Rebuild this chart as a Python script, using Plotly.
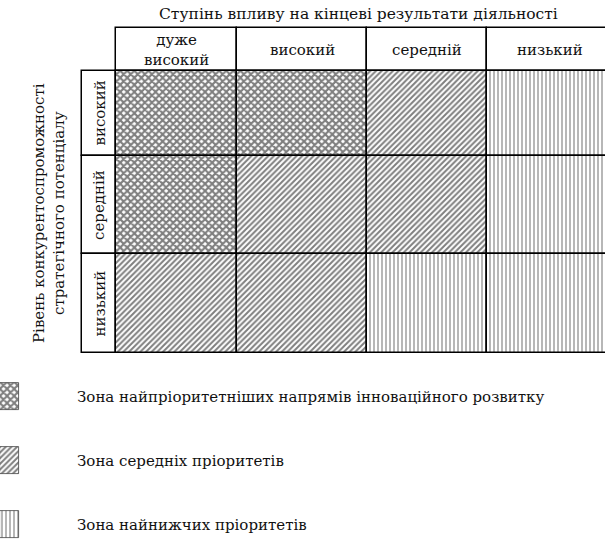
import plotly.graph_objects as go

# ---------------- data ----------------
title_text = "Ступінь впливу на кінцеві результати діяльності"
y_title = "Рівень конкурентоспроможності<br>стратегічного потенціалу"
columns = ["дуже<br>високий", "високий", "середній", "низький"]
rows = ["високий", "середній", "низький"]
# zone index for each cell (rows top->bottom, columns left->right)
zone_matrix = [
    [0, 0, 1, 2],
    [0, 1, 1, 2],
    [1, 1, 2, 2],
]
zone_names = [
    "Зона найпріоритетніших напрямів інноваційного розвитку",
    "Зона середніх пріоритетів",
    "Зона найнижчих пріоритетів",
]

# ---------------- layout / styles ----------------
W, H = 605, 540
FONT = "DejaVu Serif"
FS = 15
TXT = "#111"
table_left = 116
col_widths = [121, 130, 120, 125]
header_top = 28
rows_top = 71
row_heights = [85, 98, 99]
label_left = 82
legend_tops = [383, 447, 511]
legend_h = 27
legend_w = 19
legend_text_x = 75
patterns = [
    dict(shape="x", size=5, solidity=0.65, fgcolor="black", bgcolor="white"),
    dict(shape="/", size=4, solidity=0.5, fgcolor="black", bgcolor="white"),
    dict(shape="|", size=4, solidity=0.33, fgcolor="#222", bgcolor="white"),
]
border = dict(color="black", width=1.5)

col_left = [table_left + sum(col_widths[:i]) for i in range(len(col_widths))]
col_center = [l + w / 2 for l, w in zip(col_left, col_widths)]
row_top = [rows_top + sum(row_heights[:i]) for i in range(len(row_heights))]
label_w = table_left - label_left

fig = go.Figure()

# header cells
fig.add_trace(go.Bar(
    x=col_center, width=col_widths, base=[header_top] * len(columns),
    y=[rows_top - header_top] * len(columns),
    marker=dict(color="white", line=border), hoverinfo="skip",
))
# row label cells
fig.add_trace(go.Bar(
    x=[label_left + label_w / 2] * len(rows), width=[label_w] * len(rows),
    base=row_top, y=row_heights,
    marker=dict(color="white", line=border), hoverinfo="skip",
))

# matrix cells by zone
for z in range(len(zone_names)):
    xs, ws, bs, hs = [], [], [], []
    for r in range(len(rows)):
        for c in range(len(columns)):
            if zone_matrix[r][c] == z:
                xs.append(col_center[c]); ws.append(col_widths[c])
                bs.append(row_top[r]); hs.append(row_heights[r])
    fig.add_trace(go.Bar(
        x=xs, width=ws, base=bs, y=hs,
        marker=dict(color="white", pattern=patterns[z], line=border),
        hoverinfo="skip",
    ))

# legend swatches
for z in range(len(zone_names)):
    fig.add_trace(go.Bar(
        x=[legend_w / 2], width=[legend_w], base=[legend_tops[z]], y=[legend_h],
        marker=dict(color="white", pattern=patterns[z],
                    line=dict(color="#444", width=0.8)),
        hoverinfo="skip",
    ))
    fig.add_annotation(
        x=legend_text_x, y=legend_tops[z] + legend_h / 2, xref="x", yref="y",
        text=zone_names[z], showarrow=False, xanchor="left", yanchor="middle",
        font=dict(family=FONT, size=FS, color=TXT),
    )

# header texts
for c, lab in enumerate(columns):
    fig.add_annotation(
        x=col_center[c], y=(header_top + rows_top) / 2, xref="x", yref="y",
        text=lab, showarrow=False, xanchor="center", yanchor="middle",
        font=dict(family=FONT, size=FS, color=TXT),
    )
# row texts
for r, lab in enumerate(rows):
    fig.add_annotation(
        x=label_left + label_w / 2, y=row_top[r] + row_heights[r] / 2,
        xref="x", yref="y", text=lab, textangle=-90, showarrow=False,
        xanchor="center", yanchor="middle",
        font=dict(family=FONT, size=FS, color=TXT),
    )
# title
fig.add_annotation(
    x=358, y=14, xref="x", yref="y", text=title_text, showarrow=False,
    xanchor="center", yanchor="middle",
    font=dict(family=FONT, size=15.5, color=TXT),
)
# y title
fig.add_annotation(
    x=49, y=213, xref="x", yref="y", text=y_title, textangle=-90,
    showarrow=False, xanchor="center", yanchor="middle",
    font=dict(family=FONT, size=FS, color=TXT),
)

fig.update_layout(
    width=W, height=H, margin=dict(l=0, r=0, t=0, b=0),
    barmode="overlay", bargap=0, showlegend=False,
    plot_bgcolor="white", paper_bgcolor="white",
    font=dict(family=FONT),
    xaxis=dict(range=[0, W], visible=False, fixedrange=True),
    yaxis=dict(range=[H, 0], visible=False, fixedrange=True),
)
fig.write_html("out.html", config={"displayModeBar": False},
               post_script="document.body.style.margin='0';document.body.style.overflow='hidden';")
